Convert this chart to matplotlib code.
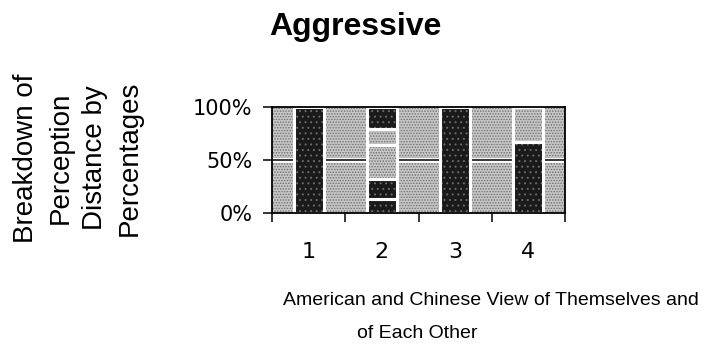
import matplotlib.pyplot as plt
from matplotlib.patches import Rectangle

plt.rcParams['hatch.linewidth'] = 0.7
plt.rcParams['font.family'] = ['Liberation Sans', 'DejaVu Sans']

categories = ['1', '2', '3', '4']
# percentage pieces of each column, bottom to top
segments = [[100], [13, 19, 32, 15, 21], [100], [67, 33]]
tones = [['dark'], ['dark', 'dark', 'light', 'light', 'dark'], ['dark'], ['dark', 'light']]
y_ticks = [0, 50, 100]
title = 'Aggressive'
y_label = ['Breakdown of', 'Perception', 'Distance by', 'Percentages']
x_label = ['American and Chinese View of Themselves and', 'of Each Other']

# face colour, dot colour, hatch
fills = {'light': ('#c6c6c6', '#707070', '......'),
         'dark': ('#1a1a1a', '#6a6a6a', '...')}

W, H = 717, 346
fig = plt.figure(figsize=(W / 100, H / 100), dpi=100)
ax = fig.add_axes([272 / W, 1 - 213 / H, (565 - 272) / W, (213 - 107) / H])

# stippled plot area
face, dots, hatch = fills['light']
ax.add_patch(Rectangle((0, 0), 1, 1, transform=ax.transAxes, facecolor=face,
                       edgecolor=dots, hatch=hatch, linewidth=0, zorder=0))
ax.axhline(50, color='white', lw=3.5, zorder=1)
ax.axhline(50, color='black', lw=1.1, zorder=1.5)

xs = range(1, len(categories) + 1)
bw = 0.41
for xi, vals, kinds in zip(xs, segments, tones):
    bottom = 0
    for v, k in zip(vals, kinds):
        face, dots, hatch = fills[k]
        ax.bar(xi, v, bw, bottom=bottom, color=face, edgecolor=dots,
               hatch=hatch, linewidth=0, zorder=2)
        ax.bar(xi, v, bw, bottom=bottom, fill=False, edgecolor='white',
               linewidth=2.2, zorder=3)
        bottom += v

ax.set_xlim(0.5, len(categories) + 0.5)
ax.set_ylim(0, 100)
for s in ax.spines.values():
    s.set_linewidth(1.3)
    s.set_zorder(4)

ax.set_xticks([i + 0.5 for i in range(len(categories) + 1)])
ax.set_xticklabels([])
ax.set_xticks(list(xs), minor=True)
ax.set_xticklabels(categories, minor=True, fontsize=16, family='DejaVu Sans')
ax.tick_params(axis='x', which='major', length=6.5, width=1.1, direction='out')
ax.tick_params(axis='x', which='minor', length=0, pad=21)

ax.set_yticks(y_ticks)
ax.set_yticklabels([f'{t}%' for t in y_ticks], fontsize=15, family='DejaVu Sans')
ax.tick_params(axis='y', length=6.5, width=1.1, pad=7.5, direction='out')

fig.text(355 / W, 1 - 35 / H, title, ha='center', va='baseline',
         fontsize=23, fontweight='bold')

for line, bx in zip(y_label, [33, 68, 102, 137]):
    fig.text(bx / W, 1 - 158 / H, line, rotation=90, rotation_mode='anchor',
             ha='center', va='baseline', fontsize=20)

for line, cx, by in zip(x_label, [491, 417], [305, 338]):
    fig.text(cx / W, 1 - by / H, line, ha='center', va='baseline', fontsize=14)

fig.savefig('out.png', dpi=100)
